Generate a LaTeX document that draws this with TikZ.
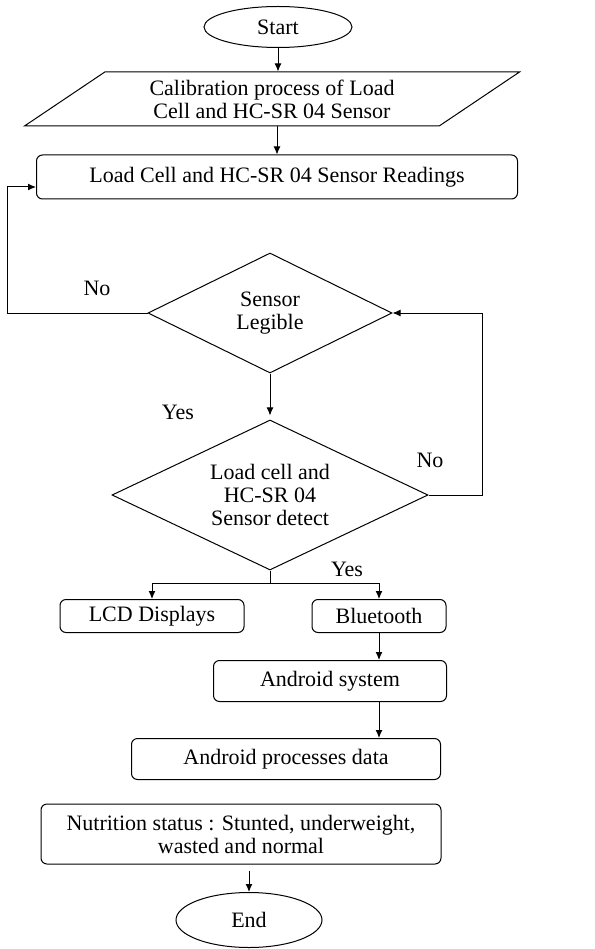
\documentclass[tikz,border=0pt]{standalone}
\usepackage{fontspec}
\setmainfont{Liberation Serif}
\usetikzlibrary{shapes.geometric, arrows.meta}

\tikzset{
    box/.style={draw, rounded corners=6pt, align=center, inner sep=0pt},
    term/.style={draw, ellipse, inner sep=0pt},
    cond/.style={draw, diamond, aspect=2, align=center, inner sep=0pt},
    iobox/.style={draw, trapezium, trapezium left angle=28, trapezium right angle=152,
        trapezium stretches body, align=center, inner sep=2pt},
}

\begin{document}
\begin{tikzpicture}[x=1pt,y=-1pt,>={Latex[length=8pt,width=7pt]},line width=1pt,font=\fontsize{22}{23}\selectfont]
            \useasboundingbox (0,0) rectangle (594,949);

            % start and calibration
            \node[term, minimum width=148, minimum height=41] (start) at (278,27) {Start};
            \node[iobox, minimum width=495, minimum height=54] (calib) at (272,99)
                {Calibration process of Load\\Cell and HC-SR 04 Sensor};
            \node[box, minimum width=481, minimum height=44] (read) at (277,177)
                {Load Cell and HC-SR 04 Sensor Readings};

            % the two checks
            \node[cond, minimum width=244, minimum height=120] (legible) at (270,313) {Sensor\\Legible};
            \node[cond, minimum width=316, minimum height=150] (detect) at (270,495)
                {Load cell and\\HC-SR 04\\Sensor detect};

            % outputs
            \node[box, minimum width=184, minimum height=33] (lcd) at (152,616) {LCD Displays};
            \node[box, minimum width=134, minimum height=33] (bt) at (379,616) {Bluetooth};
            \node[box, minimum width=233, minimum height=41] (asys) at (330,681) {Android system};
            \node[box, minimum width=309, minimum height=41] (aproc) at (286,759) {Android processes data};
            \node[box, minimum width=400, minimum height=60] (nutri) at (241,834)
                {Nutrition status : Stunted, underweight,\\wasted and normal};
            \node[term, minimum width=146, minimum height=55] (finish) at (249,920) {End};

            % yes / no labels
            \node (nol) at (97,288) {No};
            \node (yesl) at (178,412) {Yes};
            \node (nor) at (430,460) {No};
            \node (yesr) at (347,569) {Yes};

            % turning points of the lines
            \coordinate (lp) at (7,187);
            \coordinate (rp) at (482,313);
            \coordinate (split) at (270,583);

            % connectors
            \draw[->] (start) -- (start |- calib.north);
            \draw[->] (read.north |- calib.south) -- (read);
            \draw[->] (legible.west) -| (lp) -- (lp -| read.west);
            \draw[->, shorten >=4pt] (legible) -- (detect);
            \draw[->] (detect.east) -| (rp) -- (legible.east);
            \draw (detect.south) -- (split);
            \draw[->] (split) -| (lcd);
            \draw[->] (split) -| (bt);
            \draw[->] (bt) -- (bt |- asys.north);
            \draw[->] (bt |- asys.south) -- (bt |- aproc.north);
            \draw[->, shorten <=6pt] (finish |- nutri.south) -- (finish);
        \end{tikzpicture}
\end{document}
